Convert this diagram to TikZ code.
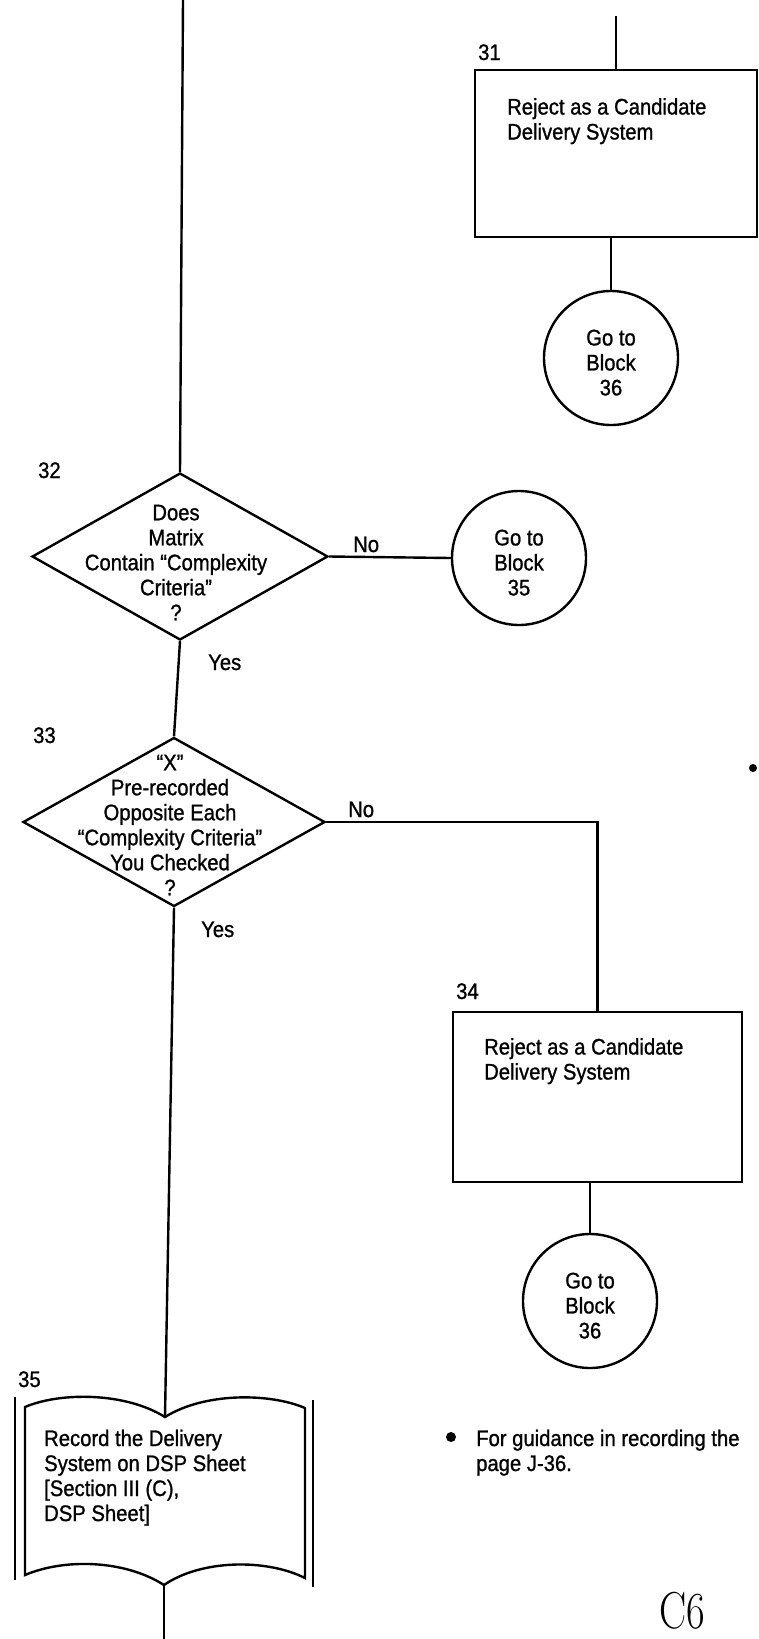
\documentclass[tikz,border=0pt]{standalone}
\usepackage{fontspec}
\newfontfamily\lsans[FakeBold=1.0,FakeStretch=0.9]{Liberation Sans}
\usetikzlibrary{shapes.geometric}
\begin{document}
\begin{tikzpicture}[x=1pt,y=-1pt, line width=2.4pt,
  txt/.style={font=\lsans\fontsize{22.5}{25}\selectfont, inner sep=0pt},
  lbl/.style={txt, anchor=base west},
  rbox/.style={draw, rectangle, inner sep=0pt},
  dec/.style={draw, diamond, inner sep=0pt},
  goto/.style={draw, circle, inner sep=0pt, minimum size=134pt, txt, align=center},
  dot/.style={circle, fill, inner sep=0pt},
]
\useasboundingbox (0,0) rectangle (759,1639);
\fill[white] (0,0) rectangle (759,1639);

% block 31
\node[rbox, minimum width=282pt, minimum height=167pt] (b31) at (616,153.5) {};
\node[txt, anchor=north west, align=left] (t31) at (506,97) {Reject as a Candidate\\Delivery System};
\node[goto] (c31) at (611,358) {\rule{0pt}{25pt}Go to\\Block\\36};
\node[lbl] (n31) at (477,60) {31};

% decision 32
\node[dec, minimum width=296pt, minimum height=167pt] (d32) at (180,556.5) {};
\node[txt, align=center] (t32) at (176,562.5) {Does\\Matrix\\Contain “Complexity\\Criteria”\\?};
\node[goto] (c35) at (519,558) {\rule{0pt}{25pt}Go to\\Block\\35};
\node[lbl] (n32) at (37,478) {32};
\node[lbl] (no32) at (352,552) {No};
\node[lbl] (yes32) at (207,670) {Yes};

% decision 33
\node[dec, minimum width=302pt, minimum height=169pt] (d33) at (174,822) {};
\node[txt, align=center] (t33) at (170,825) {“X”\\Pre-recorded\\Opposite Each\\“Complexity Criteria”\\You Checked\\?};
\node[lbl] (n33) at (32,743) {33};
\node[lbl] (no33) at (347,817) {No};
\node[lbl] (yes33) at (200,937) {Yes};

% block 34
\node[rbox, minimum width=289pt, minimum height=170pt] (b34) at (597.5,1097) {};
\node[txt, anchor=north west, align=left] (t34) at (483,1037) {Reject as a Candidate\\Delivery System};
\node[goto] (c34) at (590,1301) {\rule{0pt}{25pt}Go to\\Block\\36};
\node[lbl] (n34) at (455,999) {34};

% block 35 (book)
\coordinate (k35t) at (165,1417);
\coordinate (k35b) at (164,1585);
\draw (25,1407) .. controls (60,1392) and (125,1392) .. (k35t)
  .. controls (205,1392) and (270,1393) .. (305,1408) -- (305,1578)
  .. controls (265,1558) and (200,1560) .. (k35b)
  .. controls (125,1560) and (65,1558) .. (25,1575) -- cycle;
\draw (15,1397) -- (15,1580);
\draw (313,1400) -- (313,1587);
\node[txt, anchor=north west, align=left] (t35) at (43,1428.5) {Record the Delivery\\System on DSP Sheet\\{[}Section III (C),\\DSP Sheet{]}};
\node[lbl] (n35) at (17,1387) {35};

% connectors
\coordinate (top1) at (183,0);
\coordinate (top2) at (616,16);
\coordinate (bot) at (164,1639);
\draw (top1) -- (d32.north);
\draw (top2) -- (b31.north);
\draw (c31.north |- b31.south) -- (c31.north);
\draw (d32.east) -- (c35.west);
\draw (d32.south) -- (d33.north);
\draw (d33.east) -| (b34.north);
\draw (c34.north |- b34.south) -- (c34.north);
\draw (d33.south) -- (k35t);
\draw (k35b) -- (bot);

% notes
\node[dot, minimum size=8pt] (bul0) at (753,768) {};
\node[dot, minimum size=10pt] (bul1) at (451,1437) {};
\node[txt, anchor=north west, align=left] (note) at (475,1428.5) {For guidance in recording the\\page J-36.};
\node[anchor=base west, inner sep=0pt, font=\fontsize{52}{52}\selectfont] (pg) at (658,1628) {\scalebox{0.78}[1]{C6}};
\end{tikzpicture}
\end{document}
